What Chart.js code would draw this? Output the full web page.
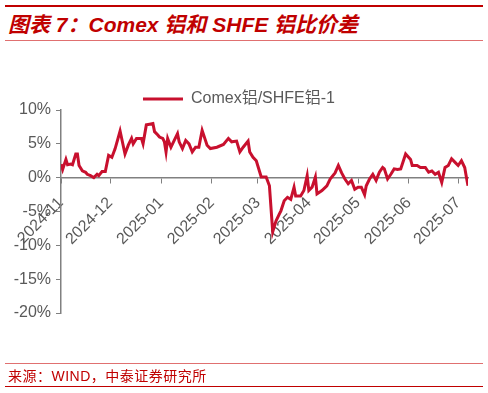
<!DOCTYPE html>
<html>
<head>
<meta charset="utf-8">
<script src="https://cdn.jsdelivr.net/npm/chart.js@4.4.1/dist/chart.umd.min.js"></script>
<style>
  html, body { margin: 0; padding: 0; background: #fff; }
  body { width: 488px; height: 393px; position: relative; overflow: hidden; }
  .rule { position: absolute; left: 5px; width: 478px; }
  #top-rule { top: 5px; height: 2px; background: #c00000; }
  #title-rule { top: 40px; height: 1px; background: #e07070; }
  #foot-rule { top: 363px; height: 1px; background: #e07070; }
  #bottom-rule { top: 386px; height: 1px; background: #c00000; }
  #title {
    position: absolute; left: 8px; top: 8px;
    font-family: "Liberation Sans", "Noto Sans CJK SC", sans-serif;
    font-size: 21px; font-weight: bold; font-style: italic; color: #c00000;
    white-space: nowrap;
  }
  #source {
    position: absolute; left: 8px; top: 365px;
    font-family: "Liberation Sans", "Noto Sans CJK SC", sans-serif;
    font-size: 14px; color: #c00000; letter-spacing: 0.5px; white-space: nowrap;
  }
  #chart-box { position: absolute; left: 0; top: 0; width: 488px; height: 393px; }
</style>
</head>
<body>
<div class="rule" id="top-rule"></div>
<div id="title">图表 7：Comex 铝和 SHFE 铝比价差</div>
<div class="rule" id="title-rule"></div>
<div id="chart-box"><canvas id="chart"></canvas></div>
<div class="rule" id="foot-rule"></div>
<div id="source">来源：WIND，中泰证券研究所</div>
<div class="rule" id="bottom-rule"></div>
<script>
// Comex铝/SHFE铝-1, in %
const seriesName = "Comex铝/SHFE铝-1";
const dates = [
  "2024-11-01", "2024-11-02", "2024-11-04", "2024-11-05", "2024-11-07", "2024-11-08",
  "2024-11-10", "2024-11-11", "2024-11-12", "2024-11-14", "2024-11-16", "2024-11-17",
  "2024-11-19", "2024-11-21", "2024-11-23", "2024-11-24", "2024-11-26", "2024-11-28",
  "2024-11-30", "2024-12-02", "2024-12-04", "2024-12-07", "2024-12-10", "2024-12-12",
  "2024-12-14", "2024-12-15", "2024-12-17", "2024-12-20", "2024-12-21", "2024-12-23",
  "2024-12-25", "2024-12-27", "2024-12-28", "2024-12-30", "2024-12-31", "2025-01-02",
  "2025-01-03", "2025-01-04", "2025-01-05", "2025-01-07", "2025-01-09", "2025-01-11",
  "2025-01-12", "2025-01-14", "2025-01-16", "2025-01-18", "2025-01-20", "2025-01-22",
  "2025-01-24", "2025-01-26", "2025-01-29", "2025-01-31", "2025-02-04", "2025-02-08",
  "2025-02-11", "2025-02-13", "2025-02-16", "2025-02-18", "2025-02-20", "2025-02-23",
  "2025-02-24", "2025-02-26", "2025-02-28", "2025-03-03", "2025-03-06", "2025-03-08",
  "2025-03-10", "2025-03-12", "2025-03-14", "2025-03-15", "2025-03-17", "2025-03-19",
  "2025-03-21", "2025-03-23", "2025-03-24", "2025-03-27", "2025-03-29", "2025-03-31",
  "2025-04-01", "2025-04-03", "2025-04-05", "2025-04-06", "2025-04-09", "2025-04-12",
  "2025-04-14", "2025-04-17", "2025-04-19", "2025-04-21", "2025-04-23", "2025-04-25",
  "2025-04-27", "2025-04-29", "2025-05-01", "2025-05-03", "2025-05-05", "2025-05-06",
  "2025-05-08", "2025-05-10", "2025-05-12", "2025-05-14", "2025-05-16", "2025-05-17",
  "2025-05-19", "2025-05-21", "2025-05-23", "2025-05-25", "2025-05-27", "2025-05-30",
  "2025-06-02", "2025-06-03", "2025-06-06", "2025-06-08", "2025-06-11", "2025-06-13",
  "2025-06-15", "2025-06-17", "2025-06-19", "2025-06-21", "2025-06-23", "2025-06-25",
  "2025-06-27", "2025-06-29", "2025-07-01", "2025-07-03", "2025-07-05", "2025-07-06",
  "2025-07-07"
];
const values = [
  2.0, 1.2, 2.7, 1.9, 2.0, 1.9,
  3.5, 3.5, 1.8, 1.0, 0.8, 0.5,
  0.3, 0.0, 0.5, 0.3, 0.9, 0.9,
  3.3, 3.0, 4.3, 6.9, 3.5, 4.8,
  5.8, 5.0, 5.8, 5.8, 5.0, 7.8,
  7.9, 8.0, 6.8, 6.3, 6.0, 5.8,
  5.3, 3.8, 5.8, 4.5, 5.5, 6.5,
  5.3, 4.3, 5.5, 5.0, 3.8, 4.5,
  4.5, 7.0, 4.8, 4.3, 4.5, 4.9,
  5.8, 5.3, 5.4, 3.8, 4.5, 5.4,
  3.8, 3.0, 2.5, 0.1, 0.1, -1.2,
  -8.0, -6.4, -5.4, -4.9, -3.4, -2.9,
  -3.2, -1.4, -2.7, -2.7, -1.9, 0.3,
  -1.9, -1.4, 0.1, -2.4, -1.9, -1.2,
  -0.2, 0.7, 1.8, 0.7, -0.2, -0.9,
  -0.4, -1.7, -1.4, -1.4, -2.5, -1.2,
  -0.2, 0.5, -0.4, 0.8, 1.5, 1.3,
  -0.2, 0.5, 1.3, 1.2, 1.3, 3.5,
  2.7, 1.8, 1.8, 1.5, 1.5, 0.8,
  1.0, 0.5, 0.8, -0.7, 1.5, 1.8,
  2.8, 2.3, 1.8, 2.5, 1.5, 0.1,
  -1.2
];
const tickLabels = ["2024-11", "2024-12", "2025-01", "2025-02", "2025-03", "2025-04", "2025-05", "2025-06", "2025-07"];
const yTicks = [-20, -15, -10, -5, 0, 5, 10];

// day offset from first month start
const startMs = Date.parse(tickLabels[0] + "-01T00:00:00Z");
const toDay = (s) => Math.round((Date.parse(s + "T00:00:00Z") - startMs) / 86400000);
const tickDays = tickLabels.map((m) => toDay(m + "-01"));

const axisGray = "#808080";
const textGray = "#595959";
const font16 = { family: "'Liberation Sans', Arial, 'Noto Sans CJK SC', sans-serif", size: 16 };

new Chart(document.getElementById("chart"), {
  type: "line",
  data: {
    datasets: [
      {
        label: seriesName,
        data: dates.map((d, i) => ({ x: toDay(d), y: values[i] })),
        borderColor: "#c8102e",
        backgroundColor: "#c8102e",
        borderWidth: 3,
        pointRadius: 0,
        tension: 0,
      },
    ],
  },
  options: {
    responsive: true,
    maintainAspectRatio: false,
    animation: false,
    layout: { padding: { top: 81, left: 10, right: 20, bottom: 80 } },
    plugins: {
      tooltip: { enabled: false },
      legend: {
        position: "top",
        maxHeight: 29,
        labels: {
          usePointStyle: true,
          pointStyle: "line",
          pointStyleWidth: 40,
          padding: 10,
          color: textGray,
          font: font16,
        },
      },
    },
    scales: {
      x: {
        type: "linear",
        position: { y: 0 },
        min: 0,
        max: toDay(dates[dates.length - 1]),
        afterBuildTicks: (scale) => {
          scale.ticks = tickDays.map((v) => ({ value: v }));
        },
        grid: { drawOnChartArea: false, drawTicks: true, tickLength: 5, color: axisGray },
        border: { display: true, color: axisGray, width: 1.5 },
        ticks: {
          autoSkip: false,
          minRotation: 45,
          maxRotation: 45,
          padding: 11,
          color: textGray,
          font: font16,
          callback: (v) => tickLabels[tickDays.indexOf(v)] || "",
        },
      },
      y: {
        min: -20,
        max: 10,
        afterFit: (scale) => {
          scale.width = 51;
        },
        afterBuildTicks: (scale) => {
          scale.ticks = yTicks.map((v) => ({ value: v }));
        },
        grid: { drawOnChartArea: false, drawTicks: true, tickLength: 5, color: axisGray },
        border: { display: true, color: axisGray, width: 1.5 },
        ticks: {
          padding: 5,
          color: textGray,
          font: font16,
          callback: (v) => v + "%",
        },
      },
    },
  },
});
</script>
</body>
</html>
